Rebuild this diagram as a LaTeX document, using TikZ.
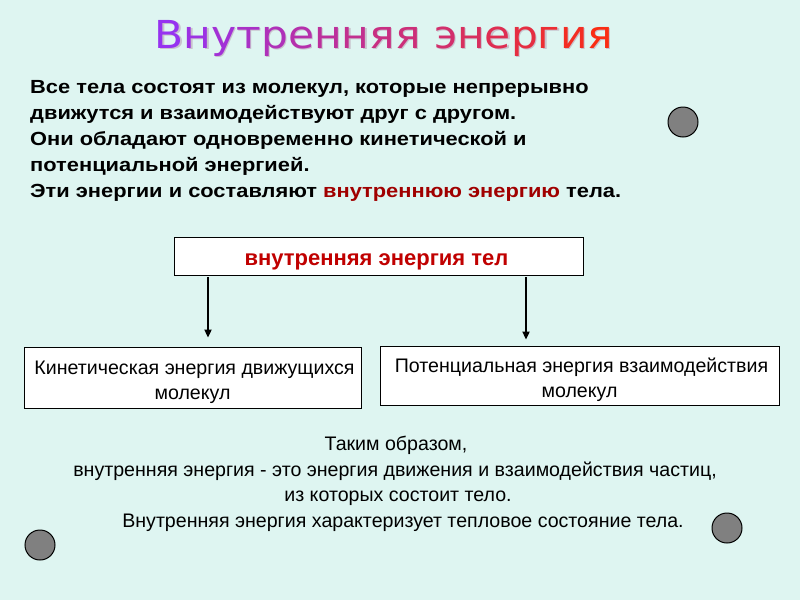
\documentclass[tikz,border=0pt]{standalone}
\usepackage{fontspec}
\usetikzlibrary{arrows.meta}
\setmainfont{Liberation Sans}
\newfontfamily\titlefont{DejaVu Sans}[FakeStretch=1.1]
\newfontfamily\bodyfont{Liberation Sans Bold}[FakeStretch=1.15]
\definecolor{bgc}{RGB}{222,245,241}
\definecolor{tA}{RGB}{150,50,240}
\definecolor{tB}{RGB}{250,45,20}
\definecolor{darkred}{RGB}{160,0,0}
\definecolor{boxred}{RGB}{192,0,0}
\definecolor{ballgray}{RGB}{128,128,128}
\definecolor{shadowc}{RGB}{200,195,205}
\newcommand{\tl}[2]{{\color{tA!#1!tB}#2}}
\tikzset{
  body/.style={anchor=base west, inner sep=0pt, font=\bodyfont\fontsize{19}{24}\selectfont},
  plain/.style={anchor=base, inner sep=0pt, font=\fontsize{19.6}{25}\selectfont},
  frame/.style={draw=black, line width=0.9pt, fill=white, inner sep=0pt},
  arr/.style={-{Triangle[length=8pt,width=7pt]}, line width=2.2pt},
  ball/.style={circle, draw=black, line width=1pt, fill=ballgray, minimum size=30pt, inner sep=0pt}
}
\begin{document}
\begin{tikzpicture}[x=1pt,y=-1pt]
\fill[bgc] (0,0) rectangle (800,600);
\useasboundingbox (0,0) rectangle (800,600);
% title
\node[inner sep=0pt, text=shadowc, font=\titlefont\fontsize{38.5}{40}\selectfont] (titlesh) at (385.2,39.2) {Внутренняя энергия};
\node[inner sep=0pt, font=\titlefont\fontsize{38.5}{40}\selectfont] (title) at (384,38) {\tl{100}{В}\tl{94}{н}\tl{88}{у}\tl{81}{т}\tl{75}{р}\tl{69}{е}\tl{62}{н}\tl{56}{н}\tl{50}{я}\tl{46}{я} \tl{40}{э}\tl{34}{н}\tl{28}{е}\tl{21}{р}\tl{14}{г}\tl{7}{и}\tl{0}{я}};
% body
\node[body] (l1) at (30,93.5) {Все тела состоят из молекул, которые непрерывно};
\node[body] (l2) at (30,119.5) {движутся и взаимодействуют друг с другом.};
\node[body] (l3) at (30,145.5) {Они обладают одновременно кинетической и};
\node[body] (l4) at (30,171.5) {потенциальной энергией.};
\node[body] (l5) at (30,197.5) {Эти энергии и составляют {\color{darkred}внутреннюю энергию} тела.};
% balls
\node[ball] (b1) at (683,122) {};
\node[ball] (b2) at (40,545) {};
\node[ball] (b3) at (727,528) {};
% boxes
\node[frame, minimum width=409pt, minimum height=38pt] (top) at (378.5,256) {};
\node[anchor=base, inner sep=0pt, text=boxred, font=\bfseries\fontsize{22}{24}\selectfont] (topt) at (376.5,265.5) {внутренняя энергия тел};
\node[frame, minimum width=337pt, minimum height=61pt] (kin) at (192.5,377.5) {};
\node[plain] (kin1) at (194.5,374) {Кинетическая энергия движущихся};
\node[plain] (kin2) at (192.5,399) {молекул};
\node[frame, minimum width=399pt, minimum height=59pt] (pot) at (579.5,375.5) {};
\node[plain] (pot1) at (581.5,372) {Потенциальная энергия взаимодействия};
\node[plain] (pot2) at (579.5,397) {молекул};
% arrows
\coordinate (ax1) at (208,0);
\coordinate (ax2) at (526,0);
\draw[arr, shorten <=2pt, shorten >=9pt] (top.south -| ax1) -- (kin.north -| ax1);
\draw[arr, shorten <=2pt, shorten >=6pt] (top.south -| ax2) -- (pot.north -| ax2);
% conclusion
\node[plain] (c1) at (396,450) {Таким образом,};
\node[plain] (c2) at (395,476) {внутренняя энергия - это энергия движения и взаимодействия частиц,};
\node[plain] (c3) at (398,501.5) {из которых состоит тело.};
\node[plain] (c4) at (403,527) {Внутренняя энергия характеризует тепловое состояние тела.};
\end{tikzpicture}
\end{document}
